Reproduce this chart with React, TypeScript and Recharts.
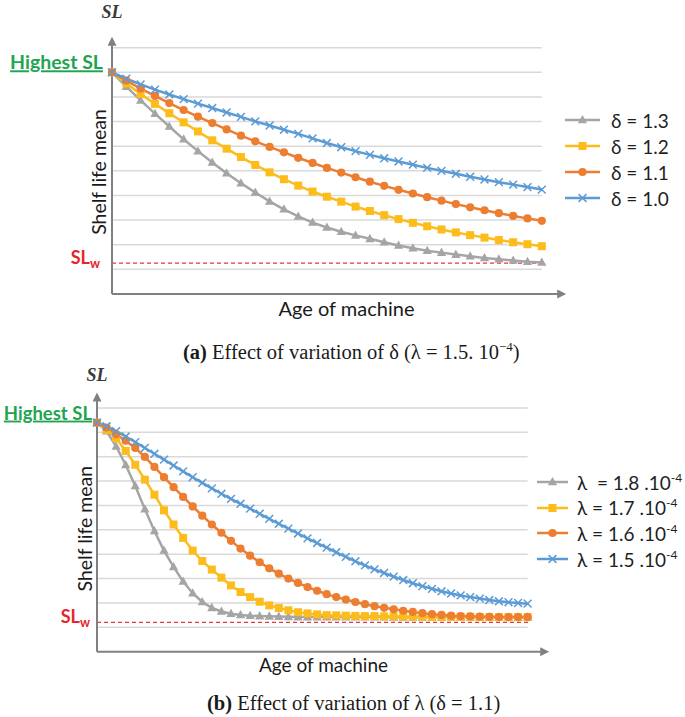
import React from 'react';
import { LineChart, Line, XAxis, YAxis, ReferenceLine, Legend } from 'recharts';

// ---- panel (a): effect of delta, lambda = 1.5e-4 ----
const agesA = [0, 1, 2, 3, 4, 5, 6, 7, 8, 9, 10, 11, 12, 13, 14, 15, 16, 17, 18, 19, 20, 21, 22, 23, 24, 25, 26, 27, 28, 29, 30];
const deltaLabels = ['1.3', '1.2', '1.1', '1.0'];
const delta13 = [9.0, 8.42, 7.86, 7.32, 6.8, 6.28, 5.8, 5.34, 4.9, 4.5, 4.12, 3.76, 3.44, 3.15, 2.9, 2.7, 2.53, 2.38, 2.24, 2.1, 1.97, 1.86, 1.76, 1.68, 1.6, 1.53, 1.46, 1.41, 1.36, 1.31, 1.28];
const delta12 = [9.0, 8.55, 8.12, 7.72, 7.34, 6.97, 6.6, 6.24, 5.9, 5.56, 5.24, 4.94, 4.66, 4.4, 4.16, 3.95, 3.75, 3.55, 3.37, 3.2, 3.04, 2.89, 2.75, 2.62, 2.5, 2.39, 2.29, 2.19, 2.1, 2.02, 1.94];
const delta11 = [9.0, 8.66, 8.34, 8.04, 7.75, 7.47, 7.2, 6.94, 6.68, 6.43, 6.2, 5.97, 5.75, 5.53, 5.32, 5.12, 4.93, 4.74, 4.56, 4.39, 4.23, 4.08, 3.93, 3.79, 3.65, 3.52, 3.4, 3.28, 3.17, 3.07, 2.97];
const delta10 = [9.0, 8.74, 8.51, 8.3, 8.1, 7.91, 7.73, 7.55, 7.37, 7.19, 7.01, 6.84, 6.67, 6.5, 6.32, 6.13, 5.96, 5.8, 5.65, 5.51, 5.38, 5.25, 5.12, 5.0, 4.88, 4.76, 4.65, 4.54, 4.44, 4.34, 4.24];
const highestA = 9.0;
const slwA = 1.25;

// ---- panel (b): effect of lambda, delta = 1.1 ----
const agesB = [0, 1, 2, 3, 4, 5, 6, 7, 8, 9, 10, 11, 12, 13, 14, 15, 16, 17, 18, 19, 20, 21, 22, 23, 24, 25, 26, 27, 28, 29, 30, 31, 32, 33, 34, 35, 36, 37, 38, 39, 40, 41, 42, 43, 44, 45];
const lambdaLabels = ['1.8', '1.7', '1.6', '1.5'];
const lambda18 = [9.4, 9.05, 8.42, 7.66, 6.8, 5.85, 4.95, 4.15, 3.48, 2.88, 2.4, 2.04, 1.8, 1.65, 1.56, 1.51, 1.48, 1.46, 1.45, 1.44, 1.43, 1.42, 1.42, 1.42, 1.42, 1.42, 1.42, 1.42, 1.42, 1.42, 1.42, 1.41, 1.41, 1.41, 1.41, 1.41, 1.41, 1.41, 1.41, 1.41, 1.41, 1.41, 1.41, 1.41, 1.41, 1.41];
const lambda17 = [9.4, 9.1, 8.76, 8.24, 7.67, 7.06, 6.44, 5.8, 5.22, 4.67, 4.15, 3.72, 3.37, 3.04, 2.72, 2.45, 2.24, 2.05, 1.9, 1.79, 1.7, 1.62, 1.57, 1.53, 1.5, 1.49, 1.48, 1.47, 1.46, 1.46, 1.45, 1.45, 1.44, 1.44, 1.44, 1.43, 1.43, 1.43, 1.43, 1.43, 1.42, 1.42, 1.42, 1.42, 1.42, 1.42];
const lambda16 = [9.4, 9.2, 8.92, 8.66, 8.36, 7.99, 7.58, 7.16, 6.75, 6.35, 5.96, 5.58, 5.22, 4.88, 4.55, 4.23, 3.94, 3.67, 3.42, 3.2, 3.0, 2.82, 2.65, 2.5, 2.36, 2.24, 2.14, 2.04, 1.95, 1.87, 1.8, 1.74, 1.68, 1.63, 1.58, 1.54, 1.51, 1.48, 1.46, 1.45, 1.44, 1.43, 1.42, 1.42, 1.42, 1.42];
const lambda15 = [9.4, 9.25, 9.05, 8.83, 8.6, 8.36, 8.12, 7.88, 7.64, 7.4, 7.16, 6.93, 6.7, 6.48, 6.27, 6.07, 5.87, 5.66, 5.45, 5.25, 5.05, 4.85, 4.65, 4.46, 4.27, 4.08, 3.89, 3.71, 3.54, 3.38, 3.23, 3.08, 2.94, 2.81, 2.69, 2.58, 2.48, 2.39, 2.31, 2.24, 2.18, 2.12, 2.07, 2.03, 2.0, 1.97];
const highestB = 9.4;
const slwB = 1.2;

const gridLevels = [1, 2, 3, 4, 5, 6, 7, 8, 9, 10];

const COLORS = ['#a5a5a5', '#fcbc1c', '#ed7d31', '#5b9bd5'];
const SHAPES = ['triangle', 'square', 'circle', 'cross'];
const KEYS = ['s0', 's1', 's2', 's3'];
const SANS = 'Lato, "Open Sans", sans-serif';
const SERIF = '"Liberation Serif", "Times New Roman", serif';
const AXIS_GREY = '#808080';

function marker(kind: string, cx: number, cy: number, color: string, key: React.Key) {
  if (cx == null || cy == null) return <g key={key} />;
  switch (kind) {
    case 'triangle':
      return <polygon key={key} points={`${cx},${cy - 5} ${cx + 4.6},${cy + 3.3} ${cx - 4.6},${cy + 3.3}`} fill={color} />;
    case 'square':
      return <rect key={key} x={cx - 4} y={cy - 4} width={8} height={8} fill={color} />;
    case 'circle':
      return <circle key={key} cx={cx} cy={cy} r={4.1} fill={color} />;
    default:
      return (
        <g key={key} stroke={color} strokeWidth={1.5}>
          <line x1={cx - 3.9} y1={cy - 3.9} x2={cx + 3.9} y2={cy + 3.9} />
          <line x1={cx - 3.9} y1={cy + 3.9} x2={cx + 3.9} y2={cy - 3.9} />
        </g>
      );
  }
}

type PanelProps = {
  top: number;
  ages: number[];
  series: number[][];
  names: string[];
  legendText: (i: number) => React.ReactNode;
  highest: number;
  slw: number;
  plotLeft: number;
  plotTop: number;
  plotBottom: number;
  plotRight: number;
  xMax: number;
  yMax: number;
  legendPos: { left: number; top: number; row: number; line: number; gap: number };
  ageLabel: { dx: number; dy: number; size: number };
  sideLabel: { highSize: number; highDx: number; slwDx: number };
  slRise: number;
  shelfGap: number;
};

function Panel(p: PanelProps) {
  const H = 330;
  const rows = p.ages.map((age, i) => {
    const r: Record<string, number> = { age };
    p.series.forEach((s, k) => (r[KEYS[k]] = s[i]));
    return r;
  });
  const lastAge = p.ages[p.ages.length - 1];

  const sideTick = (t: any) => {
    const v = t.payload.value;
    if (v === p.highest) {
      return (
        <text x={t.x + p.sideLabel.highDx} y={t.y - 3} textAnchor="end" fill="#1fa450" fontFamily={SANS} fontSize={p.sideLabel.highSize} fontWeight={700} textDecoration="underline">
          Highest SL
        </text>
      );
    }
    return (
      <text x={t.x + p.sideLabel.slwDx} y={t.y + 1} textAnchor="end" fill="#e5262d" fontFamily={SANS} fontSize={18} fontWeight={700}>
        SL<tspan fontSize={12.5} dy={4}>w</tspan>
      </text>
    );
  };

  const legend = (lp: any) => (
    <div style={{ fontFamily: SANS, fontSize: 19, color: '#1f1f1f' }}>
      {(lp.payload || []).map((e: any, i: number) => (
        <div key={i} style={{ display: 'flex', alignItems: 'center', height: p.legendPos.row, whiteSpace: 'nowrap' }}>
          <svg width={p.legendPos.line} height={12}>
            <line x1={0} y1={6} x2={p.legendPos.line} y2={6} stroke={COLORS[i]} strokeWidth={2.5} />
            {marker(SHAPES[i], p.legendPos.line / 2, 6, COLORS[i], 'm')}
          </svg>
          <span style={{ marginLeft: p.legendPos.gap }}>{p.legendText(i)}</span>
        </div>
      ))}
    </div>
  );

  return (
    <div style={{ position: 'absolute', left: 0, top: p.top }}>
      <LineChart
        width={685}
        height={H}
        data={rows}
        margin={{ top: p.plotTop, right: 685 - p.plotRight, bottom: 0, left: 0 }}
      >
        <XAxis
          type="number"
          dataKey="age"
          domain={[0, p.xMax]}
          height={H - p.plotBottom}
          tick={false}
          tickLine={false}
          axisLine={{ stroke: AXIS_GREY, strokeWidth: 2, markerEnd: 'url(#axisArrow)' }}
          label={{
            content: (lp: any) => {
              const vb = lp.viewBox;
              return (
                <text x={vb.x + vb.width / 2 + p.ageLabel.dx} y={vb.y + p.ageLabel.dy} textAnchor="middle" fontFamily={SANS} fontSize={p.ageLabel.size} fill="#1a1a1a">
                  Age of machine
                </text>
              );
            },
          }}
        />
        <YAxis
          type="number"
          domain={[0, p.yMax]}
          width={p.plotLeft}
          ticks={[p.slw, p.highest]}
          tick={sideTick}
          tickLine={false}
          axisLine={{ stroke: AXIS_GREY, strokeWidth: 2, markerStart: 'url(#axisArrow)' }}
          label={{
            content: (lp: any) => {
              const vb = lp.viewBox;
              const right = vb.x + vb.width;
              const cy = vb.y + vb.height / 2 + 3;
              const cx = right - p.shelfGap;
              return (
                <g>
                  <text x={cx} y={cy} transform={`rotate(-90 ${cx} ${cy})`} textAnchor="middle" dominantBaseline="central" fontFamily={SANS} fontSize={19.5} fill="#1a1a1a">
                    Shelf life mean
                  </text>
                  <text x={right} y={vb.y - p.slRise} textAnchor="middle" fontFamily={SERIF} fontStyle="italic" fontWeight={700} fontSize={18} fill="#3a3a3a">
                    SL
                  </text>
                </g>
              );
            },
          }}
        />
        {gridLevels.map((g) => (
          <ReferenceLine key={g} segment={[{ x: 0, y: g }, { x: lastAge, y: g }]} stroke="#d9d9d9" strokeWidth={1.5} />
        ))}
        <ReferenceLine segment={[{ x: 0, y: p.slw }, { x: lastAge + 0.3, y: p.slw }]} stroke="#e8363a" strokeWidth={1.3} strokeDasharray="4 3" />
        <Legend
          layout="vertical"
          align="center"
          verticalAlign="middle"
          content={legend}
          wrapperStyle={{ left: p.legendPos.left, top: p.legendPos.top, width: 685 - p.legendPos.left }}
        />
        {p.series.map((_, k) => (
          <Line
            key={KEYS[k]}
            dataKey={KEYS[k]}
            name={p.names[k]}
            stroke={COLORS[k]}
            strokeWidth={2.5}
            dot={(d: any) => marker(SHAPES[k], d.cx, d.cy, COLORS[k], d.index)}
            activeDot={false}
            isAnimationActive={false}
          />
        ))}
      </LineChart>
    </div>
  );
}

const titleStyle: React.CSSProperties = {
  position: 'absolute',
  fontFamily: SERIF,
  fontSize: 20.5,
  whiteSpace: 'nowrap',
  color: '#1a1a1a',
  lineHeight: '24px',
};

export default function App() {
  return (
    <div style={{ position: 'absolute', left: 0, top: 0, width: 685, height: 717, background: '#fff', overflow: 'hidden' }}>
      <svg width={0} height={0} style={{ position: 'absolute' }}>
        <defs>
          <marker id="axisArrow" viewBox="0 0 10 10" refX="2" refY="5" markerWidth="5" markerHeight="4.5" orient="auto-start-reverse">
            <path d="M0,0 L10,5 L0,10 z" fill={AXIS_GREY} />
          </marker>
        </defs>
      </svg>

      <Panel
        top={0}
        ages={agesA}
        series={[delta13, delta12, delta11, delta10]}
        names={deltaLabels.map((d) => `δ = ${d}`)}
        legendText={(i) => `δ = ${deltaLabels[i]}`}
        highest={highestA}
        slw={slwA}
        plotLeft={112}
        plotTop={44}
        plotBottom={294}
        plotRight={559}
        xMax={31.2}
        yMax={10.15}
        legendPos={{ left: 565, top: 107, row: 26, line: 35, gap: 11 }}
        ageLabel={{ dx: 11, dy: 22, size: 20 }}
        sideLabel={{ highSize: 19.5, highDx: -1, slwDx: -4 }}
        slRise={26}
        shelfGap={14}
      />
      <div style={{ ...titleStyle, left: 183, top: 340 }}>
        <b>(a)</b> Effect of variation of δ (λ = 1.5. 10<span style={{ fontSize: 13, position: 'relative', top: -8 }}>−4</span>)
      </div>

      <Panel
        top={360}
        ages={agesB}
        series={[lambda18, lambda17, lambda16, lambda15]}
        names={lambdaLabels.map((l) => `λ = ${l} .10-4`)}
        legendText={(i) => (
          <>
            {i === 0 ? 'λ\u00a0 = ' : 'λ = '}
            {lambdaLabels[i]} .10<span style={{ fontSize: 12, position: 'relative', top: -8 }}>-4</span>
          </>
        )}
        highest={highestB}
        slw={slwB}
        plotLeft={97}
        plotTop={39.7}
        plotBottom={291.7}
        plotRight={542}
        xMax={46.5}
        yMax={10.34}
        legendPos={{ left: 537, top: 109.5, row: 25.6, line: 31, gap: 9 }}
        ageLabel={{ dx: 4, dy: 20, size: 19 }}
        sideLabel={{ highSize: 18.5, highDx: 3, slwDx: 1 }}
        slRise={19}
        shelfGap={12}
      />
      <div style={{ ...titleStyle, left: 207, top: 691 }}>
        <b>(b)</b> Effect of variation of λ (δ = 1.1)
      </div>
    </div>
  );
}
